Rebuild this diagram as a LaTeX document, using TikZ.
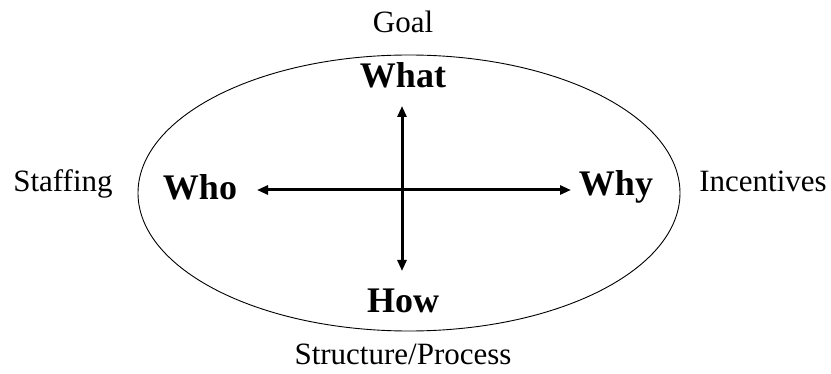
\documentclass[tikz,border=0pt]{standalone}
\usepackage{fontspec}
\setmainfont{Liberation Serif}
\usetikzlibrary{arrows.meta}

\begin{document}
\begin{tikzpicture}[x = 1pt, y = -1pt,
                    outer/.style = {anchor = base, inner sep = 0pt, font = \fontsize{31}{37}\selectfont},
                    inner/.style = {anchor = base, inner sep = 0pt, font = \fontsize{36}{43}\selectfont\bfseries},
                    arr/.style = {line width = 3pt, -{Triangle[length = 11pt, width = 9pt]}}]
  \useasboundingbox (0,0) rectangle (831,374);
  \draw [line width = 0.9pt] (409,193) ellipse [x radius = 271pt, y radius = 138pt];

  \node [outer] (goal) at (403,33) {Goal};
  \node [outer] (staff) at (63,192) {Staffing};
  \node [outer] (incent) at (763,192) {Incentives};
  \node [outer] (struct) at (403,365) {Structure/Process};

  \node [inner] (what) at (403,88) {What};
  \node [inner] (who) at (200,200) {Who};
  \node [inner] (why) at (616,196) {Why};
  \node [inner] (how) at (403,313) {How};

  \coordinate (c) at (402,190);
  \coordinate (up) at (402,106);
  \coordinate (down) at (402,271);
  \coordinate (left) at (257,190);
  \coordinate (right) at (571,190);
  \draw [arr] (c)--(up);
  \draw [arr] (c)--(down);
  \draw [arr] (c)--(left);
  \draw [arr] (c)--(right);
\end{tikzpicture}
\end{document}
